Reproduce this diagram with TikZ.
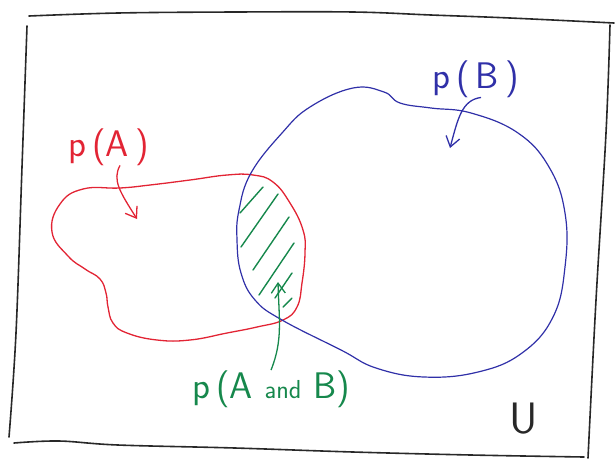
\documentclass[tikz,border=0pt]{standalone}
\usepackage{tikz}
\usetikzlibrary{arrows.meta}
\usepackage{xcolor}
\definecolor{SetA}{RGB}{226,36,52}
\definecolor{SetB}{RGB}{48,48,168}
\definecolor{Both}{RGB}{22,136,76}
\definecolor{Frame}{RGB}{40,40,40}

\begin{document}
\begin{tikzpicture}[x=1pt,y=-1pt,>={Straight Barb[length=10pt,width=14pt]},font=\sffamily]
\useasboundingbox (0,0) rectangle (615,459);

\draw[Frame, line width=1.6pt, line cap=round] plot[smooth, tension=0.6] coordinates {(29,16) (118,13) (235,12) (353,12) (431,15) (510,18) (614,23)};
\draw[Frame, line width=1.6pt, line cap=round] plot[smooth, tension=0.6] coordinates {(27,26) (22,167) (16,333) (9,437)};
\draw[Frame, line width=1.6pt, line cap=round] plot[smooth, tension=0.6] coordinates {(14,443) (59,441) (118,445) (235,448) (353,452) (471,455) (584,457)};
\draw[Frame, line width=1.6pt, line cap=round] plot[smooth, tension=0.6] coordinates {(610,25) (606,133) (596,300) (588,458)};

\draw[SetA, line width=1.3pt] plot[smooth cycle, tension=0.75] coordinates {(52,232) (60,204) (83,189) (120,188) (150,185) (190,180) (227,175) (253,175) (273,182) (290,203) (303,230) (305,253) (302,283) (297,307) (283,320) (257,327) (227,333) (190,340) (157,340) (127,333) (113,323) (108,307) (106,293) (100,279) (85,269) (68,256)};

\draw[SetB, line width=1.2pt] plot[smooth cycle, tension=0.7] coordinates {(237,240) (239,210) (251,173) (282,133) (310,107) (353,88) (384,92) (400,103) (431,108) (471,113) (518,133) (549,167) (565,213) (565,267) (553,317) (522,353) (478,372) (424,377) (376,368) (341,350) (282,320) (255,300) (241,273)};

\draw[Both, line width=1.4pt, line cap=round] (240,213) -- (263,187);
\draw[Both, line width=1.4pt, line cap=round] (241,247) -- (278,194);
\draw[Both, line width=1.4pt, line cap=round] (253,270) -- (289,217);
\draw[Both, line width=1.4pt, line cap=round] (259,295) -- (294,243);
\draw[Both, line width=1.4pt, line cap=round] (275,298) -- (292,273);
\draw[Both, line width=1.4pt, line cap=round] (283,307) -- (292,298);

\node[SetA, anchor=base west, font=\sffamily\fontsize{37}{40}\selectfont, inner sep=0pt] (pA) at (68,156) {p\,(A\,)};
\node[SetB, anchor=base west, font=\sffamily\fontsize{37}{40}\selectfont, inner sep=0pt] (pB) at (432,88) {p\,(\,B\,)};
\node[Both, anchor=base west, font=\sffamily\fontsize{37}{40}\selectfont, inner sep=0pt] (pAB) at (192,398) {p\,(A {\fontsize{26}{30}\selectfont and} B)};
\node[Frame, anchor=base west, font=\sffamily\fontsize{44}{48}\selectfont, inner sep=0pt] (univ) at (509,433) {U};

\coordinate (tipA) at (137,219);
\coordinate (tipB) at (450,148);
\coordinate (tipAB) at (278,282);

\draw[SetA, line width=1.3pt, ->] (pA.south -| 120,0) .. controls (112,180) and (120,192) .. (tipA);
\draw[SetB, line width=1.3pt, ->] (pB.south -| 481,0) .. controls (462,100) and (458,118) .. (tipB);
\draw[Both, line width=1.3pt, ->] (pAB.north -| 271,0) .. controls (283,340) and (279,320) .. (tipAB);
\end{tikzpicture}
\end{document}
